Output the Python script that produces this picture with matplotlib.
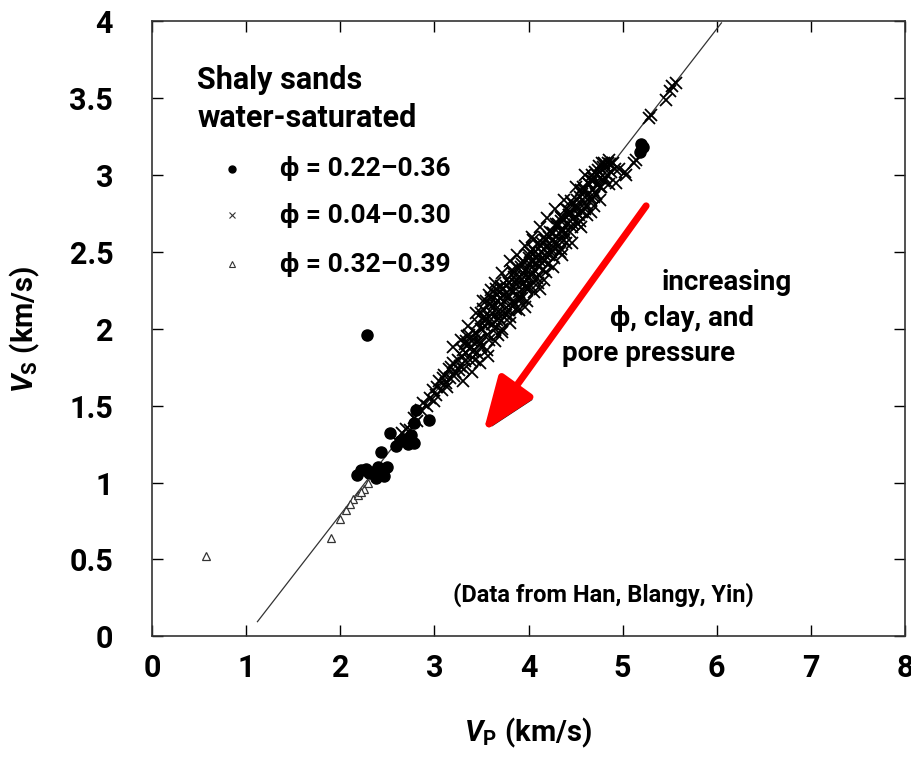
import numpy as np
import matplotlib
matplotlib.use("Agg")
import matplotlib.pyplot as plt
import matplotlib.patheffects as pe

plt.rcParams['font.family'] = ['Roboto', 'DejaVu Sans']
plt.rcParams['font.weight'] = 'bold'
plt.rcParams['mathtext.fontset'] = 'custom'
plt.rcParams['mathtext.it'] = 'Roboto:italic:bold'
plt.rcParams['mathtext.rm'] = 'Roboto:bold'
plt.rcParams['mathtext.bf'] = 'Roboto:bold'

# phi = 0.22-0.36 (dots)
dot_vp = [2.28, 2.18, 2.22, 2.27, 2.31, 2.35, 2.40, 2.46, 2.43, 2.53, 2.59, 2.63, 2.67,
          2.72, 2.75, 2.78, 2.80, 2.78, 2.94, 2.50, 2.38, 5.18, 5.22, 5.20]
dot_vs = [1.96, 1.05, 1.08, 1.09, 1.06, 1.07, 1.10, 1.04, 1.20, 1.32, 1.24, 1.27, 1.28,
          1.25, 1.31, 1.26, 1.47, 1.39, 1.41, 1.10, 1.03, 3.15, 3.18, 3.20]

# phi = 0.04-0.30 (crosses)
x_vp = [2.60, 2.66, 2.70, 2.74, 2.78, 2.82, 2.86, 2.88, 2.92, 2.95, 2.98, 3.00,
        3.03, 3.05, 3.08, 3.10, 3.12, 3.15, 3.17, 3.20, 3.22, 3.25, 3.27, 3.30, 3.31,
        3.34, 3.36, 3.38, 3.40, 3.42, 3.44, 3.45, 3.47, 3.49, 3.50,
        3.52, 3.54, 3.55, 3.57, 3.58, 3.60, 3.61, 3.63, 3.65, 3.66, 3.68, 3.70, 3.71,
        3.72, 3.74, 3.75, 3.77, 3.78, 3.80, 3.81, 3.83, 3.84, 3.86, 3.87, 3.88, 3.90,
        3.91, 3.93, 3.94, 3.95, 3.97, 3.98, 4.00, 4.00,
        4.02, 4.03, 4.05, 4.06, 4.08, 4.09, 4.10, 4.12, 4.13, 4.15, 4.16, 4.18, 4.20,
        4.21, 4.23, 4.24, 4.26, 4.27, 4.29, 4.30, 4.32, 4.34, 4.35, 4.37, 4.38, 4.40,
        4.41, 4.43, 4.44, 4.46, 4.48, 4.50, 4.45,
        4.52, 4.53, 4.55, 4.57, 4.58, 4.60, 4.62, 4.63, 4.65, 4.67, 4.68, 4.70, 4.71,
        4.73, 4.75, 4.76, 4.78, 4.80, 4.82, 4.85, 4.88, 4.90, 4.93, 4.96,
        5.02, 5.12, 5.04, 5.14, 5.30, 5.46, 5.52, 5.57, 5.50, 5.28,
        3.33, 3.37, 3.41, 3.46, 3.48, 3.53, 3.56, 3.59, 3.62, 3.64, 3.67, 3.69, 3.73,
        3.76, 3.79, 3.82, 3.85, 3.89, 3.92, 3.96, 3.99, 4.01, 4.04, 4.07, 4.11, 4.14,
        4.17, 4.19, 4.22, 4.25, 4.28, 4.31, 4.33, 4.36, 4.39, 4.42, 4.47, 4.51, 4.54,
        4.59, 4.61, 4.64, 4.66, 4.69, 4.72, 4.74, 4.77, 4.79, 4.81, 4.84,
        3.02, 3.09, 3.13, 3.18, 3.21, 3.26, 3.29, 3.32, 3.35, 3.39, 3.43, 3.46, 3.51,
        3.55, 3.58, 3.60, 3.63, 3.66, 3.69, 3.71, 3.74, 3.76, 3.79, 3.82, 3.84, 3.86,
        3.88, 3.91, 3.93, 3.95, 3.98, 4.02, 4.05, 4.08, 4.10, 4.13, 4.16, 4.19, 4.22,
        4.24, 4.27, 4.30, 4.33, 4.36, 4.40, 4.43, 4.46, 4.49, 4.53, 4.56, 4.60, 4.63,
        4.66, 4.70, 4.73, 4.76, 4.80, 4.83, 4.87, 4.92, 3.96, 4.12, 3.68, 4.55, 3.50,
        4.05,
        3.20, 3.28, 3.36, 3.44, 3.52, 3.58, 3.64, 3.72, 3.80, 3.88, 3.96, 4.04, 4.12,
        4.20, 4.28, 4.38, 4.50, 4.60,
        3.30, 3.40, 3.48, 3.56, 3.64, 3.72, 3.80, 3.90, 3.98, 4.06, 4.16, 4.26, 4.36,
        4.46, 4.56, 4.66, 4.76, 4.86,
        3.34, 3.43, 3.53, 3.61, 3.70, 3.78, 3.87, 3.94, 4.03, 4.09, 4.18, 4.26, 4.34,
        4.44, 4.57, 4.68]
x_vs = [1.27, 1.32, 1.35, 1.34, 1.42, 1.40, 1.47, 1.52, 1.50, 1.55, 1.60, 1.53,
        1.62, 1.66, 1.60, 1.70, 1.65, 1.74, 1.68, 1.78, 1.72, 1.80, 1.76, 1.86, 1.74,
        1.84, 1.90, 1.80, 1.92, 1.86, 1.97, 1.84, 1.93, 2.00, 1.88,
        2.13, 2.02, 2.18, 1.82, 2.08, 2.20, 2.03, 2.14, 2.26, 2.06, 2.18, 2.10, 2.28,
        2.00, 2.22, 2.13, 2.32, 2.20, 2.08, 2.26, 2.36, 2.18, 2.30, 2.13, 2.40, 2.24,
        2.34, 2.20, 2.44, 2.30, 2.38, 2.26, 2.48, 2.34,
        2.42, 2.28, 2.52, 2.38, 2.46, 2.33, 2.56, 2.44, 2.50, 2.38, 2.60, 2.48, 2.54,
        2.42, 2.63, 2.52, 2.58, 2.46, 2.68, 2.56, 2.62, 2.52, 2.73, 2.64, 2.58, 2.78,
        2.68, 2.74, 2.63, 2.82, 2.72, 2.78, 2.83,
        2.80, 2.68, 2.86, 2.76, 2.92, 2.82, 2.74, 2.95, 2.86, 3.00, 2.90, 2.80, 3.02,
        2.94, 3.06, 2.98, 3.08, 2.96, 3.05, 3.10, 3.02, 3.08, 2.95, 3.04,
        3.02, 3.08, 3.00, 3.10, 3.39, 3.49, 3.58, 3.60, 3.55, 3.37,
        1.90, 1.96, 1.85, 2.04, 1.90, 2.08, 1.96, 2.16, 2.03, 2.00, 2.22, 2.07, 2.26,
        2.09, 2.30, 2.15, 2.34, 2.20, 2.40, 2.27, 2.33, 2.46, 2.35, 2.50, 2.40, 2.56,
        2.45, 2.58, 2.48, 2.62, 2.52, 2.68, 2.58, 2.72, 2.62, 2.77, 2.68, 2.84, 2.74,
        2.90, 2.80, 2.94, 2.84, 2.98, 2.88, 3.03, 2.92, 3.05, 2.98, 3.08,
        1.57, 1.68, 1.62, 1.75, 1.69, 1.73, 1.82, 1.79, 1.95, 1.88, 1.80, 1.92, 2.00,
        2.06, 1.93, 2.25, 2.16, 2.10, 2.24, 2.05, 2.18, 2.28, 2.12, 2.38, 2.24, 2.16,
        2.29, 2.20, 2.42, 2.34, 2.27, 2.50, 2.36, 2.43, 2.30, 2.54, 2.44, 2.37, 2.60,
        2.50, 2.56, 2.66, 2.50, 2.63, 2.56, 2.74, 2.66, 2.80, 2.75, 2.90, 2.78, 2.88,
        2.97, 2.86, 3.00, 2.92, 3.08, 3.00, 3.07, 3.04, 2.14, 2.26, 1.96, 2.70, 2.10,
        2.58,
        1.88, 1.93, 2.02, 2.10, 2.18, 2.22, 2.30, 2.36, 2.44, 2.48, 2.54, 2.60, 2.66,
        2.72, 2.78, 2.84, 2.92, 3.00,
        1.66, 1.72, 1.78, 1.86, 1.92, 1.98, 2.04, 2.12, 2.18, 2.24, 2.32, 2.40, 2.48,
        2.56, 2.66, 2.76, 2.84, 2.94,
        1.92, 1.97, 2.06, 2.10, 2.20, 2.22, 2.32, 2.36, 2.44, 2.47, 2.58, 2.62, 2.70,
        2.76, 2.88, 2.96]

# phi = 0.32-0.39 (triangles)
tri_vp = [0.57, 1.90, 2.00, 2.06, 2.14, 2.19, 2.25, 2.29, 2.10, 2.22]
tri_vs = [0.52, 0.64, 0.76, 0.82, 0.89, 0.92, 0.96, 1.00, 0.86, 0.94]

# trend line end points
line_vp = [1.12, 6.05]
line_vs = [0.095, 3.99]

fig = plt.figure(figsize=(9.12, 7.62), dpi=100)
ax = fig.add_axes([0.1667, 0.165, 0.8256, 0.807])

ax.plot(line_vp, line_vs, color='#333333', lw=0.9, zorder=2)
ax.plot(x_vp, x_vs, 'x', color='black', ms=8, mew=1.3, ls='none', zorder=3)
ax.plot(dot_vp, dot_vs, 'o', color='black', ms=8, ls='none', zorder=4)
ax.plot(tri_vp, tri_vs, '^', mfc='white', mec='#333333', ms=6, mew=0.9, ls='none', zorder=4)

ax.set_xlim(0, 8)
ax.set_ylim(0, 4)
ax.set_xticks(range(0, 9))
ax.set_yticks([0, 0.5, 1, 1.5, 2, 2.5, 3, 3.5, 4])
ax.set_yticklabels(['0', '0.5', '1', '1.5', '2', '2.5', '3', '3.5', '4'])
ax.tick_params(direction='in', length=8, width=1, top=True, right=True, labelsize=22)
ax.tick_params(axis='x', pad=12)
ax.tick_params(axis='y', pad=28)
for s in ax.spines.values():
    s.set_linewidth(1.2)
    s.set_color('#333333')

ax.set_xlabel(r'$V_\mathrm{P}\ \mathbf{(km/s)}$', fontsize=21, labelpad=24)
ax.set_ylabel(r'$V_\mathrm{S}\ \mathbf{(km/s)}$', fontsize=21, labelpad=20)

# titles and legend (text inside axes)
ax.text(0.48, 3.62, 'Shaly sands', fontsize=22, va='center', ha='left')
ax.text(0.48, 3.37, 'water-saturated', fontsize=22, va='center', ha='left')
leg_y = [3.04, 2.74, 2.42]
leg_txt = ['ϕ = 0.22–0.36', 'ϕ = 0.04–0.30', 'ϕ = 0.32–0.39']
ax.plot([0.85], [leg_y[0]], 'o', color='black', ms=5)
ax.plot([0.85], [leg_y[1]], 'x', color='#333333', ms=5, mew=0.8)
ax.plot([0.85], [leg_y[2]], '^', mfc='white', mec='#333333', ms=4.5, mew=0.8)
for yy, tt in zip(leg_y, leg_txt):
    ax.text(1.36, yy, tt, fontsize=19, va='center', ha='left')

ax.text(6.8, 2.30, 'increasing', fontsize=20, ha='right', va='center')
ax.text(6.4, 2.07, 'ϕ, clay, and', fontsize=20, ha='right', va='center')
ax.text(6.2, 1.84, 'pore pressure', fontsize=20, ha='right', va='center')
ax.text(4.8, 0.27, '(Data from Han, Blangy, Yin)', fontsize=17, ha='center', va='center')

ax.annotate('', xy=(3.52, 1.33), xytext=(5.25, 2.80),
            arrowprops=dict(arrowstyle='-|>,head_length=1.1,head_width=0.42', lw=5,
                            color='red', mutation_scale=30, shrinkA=0, shrinkB=0,
                            path_effects=[pe.SimplePatchShadow(offset=(2, -2), shadow_rgbFace='black', alpha=0.9),
                                          pe.Normal()]))

fig.savefig('out.png', dpi=100)
